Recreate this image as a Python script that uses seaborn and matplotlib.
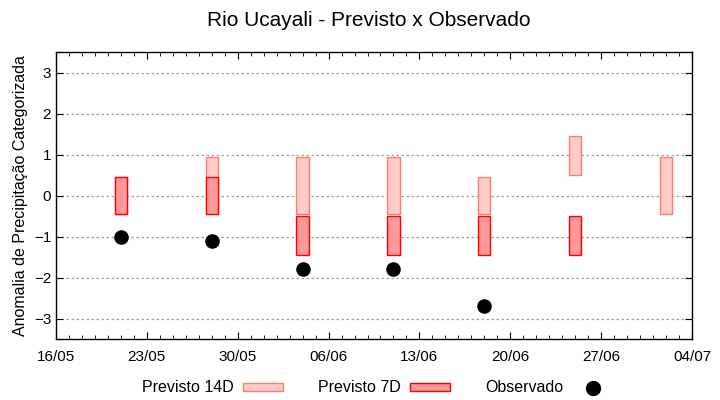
import numpy as np
import pandas as pd
import seaborn as sns
import matplotlib.pyplot as plt
import matplotlib.dates as mdates
from matplotlib.patches import Patch
from matplotlib.lines import Line2D

# forecast / observation dates
datas = ["2023-05-21", "2023-05-28", "2023-06-04", "2023-06-11",
         "2023-06-18", "2023-06-25", "2023-07-02"]
# Previsto 14D (low, high)
prev14_min = [-0.45, -0.45, -0.45, -0.45, -0.45, 0.5, -0.45]
prev14_max = [0.45, 0.95, 0.95, 0.95, 0.45, 1.45, 0.95]
# Previsto 7D (low, high)
prev7_min = [-0.45, -0.45, -1.45, -1.45, -1.45, -1.45, np.nan]
prev7_max = [0.45, 0.45, -0.5, -0.5, -0.5, -0.5, np.nan]
# Observado
observado = [-1.0, -1.1, -1.8, -1.8, -2.7, np.nan, np.nan]

eixo_x = ["2023-05-16", "2023-05-23", "2023-05-30", "2023-06-06",
          "2023-06-13", "2023-06-20", "2023-06-27", "2023-07-04"]

df = pd.DataFrame({
    "data": pd.to_datetime(datas),
    "p14_min": prev14_min, "p14_max": prev14_max,
    "p7_min": prev7_min, "p7_max": prev7_max,
    "obs": observado,
})

sns.set_style("white")
plt.rcParams["font.family"] = ["Liberation Sans", "DejaVu Sans"]
plt.rcParams["text.color"] = "black"
plt.rcParams["axes.labelcolor"] = "black"
plt.rcParams["xtick.color"] = "black"
plt.rcParams["ytick.color"] = "black"

fig = plt.figure(figsize=(7.2, 4), dpi=100)
ax = fig.add_axes([0.0778, 0.1525, 0.8833, 0.7175])

ax.bar(df["data"], df["p14_max"] - df["p14_min"], bottom=df["p14_min"], width=0.95,
       color="#ffccc7", edgecolor="#f47f72", linewidth=1.0, zorder=2)
ax.bar(df["data"], df["p7_max"] - df["p7_min"], bottom=df["p7_min"], width=0.95,
       color="#ff9999", edgecolor="#ff0000", linewidth=1.0, zorder=3)
sns.scatterplot(data=df.dropna(subset=["obs"]), x="data", y="obs", ax=ax,
                color="black", s=110, edgecolor="black", linewidth=0, zorder=4,
                legend=False)

ticks = pd.to_datetime(eixo_x)
ax.set_xlim(ticks[0], ticks[-1])
ax.set_xticks(ticks)
ax.xaxis.set_major_formatter(mdates.DateFormatter("%d/%m"))
ax.xaxis.set_minor_locator(mdates.DayLocator())
ax.set_ylim(-3.5, 3.5)
ax.set_yticks(range(-3, 4))

ax.yaxis.grid(True, color="#a0a0a0", linestyle=(0, (2, 2)), linewidth=0.9)
ax.set_axisbelow(True)
for s in ax.spines.values():
    s.set_color("black")
    s.set_linewidth(1.0)

ax.tick_params(which="both", direction="in", top=True, right=True,
               bottom=True, left=True, labelsize=11)
ax.tick_params(which="major", length=5)
ax.tick_params(which="minor", length=3)
ax.tick_params(axis="x", pad=8)

ax.set_xlabel("")
ax.set_ylabel("Anomalia de Precipitação Categorizada", fontsize=11.5, labelpad=4)
fig.suptitle("Rio Ucayali - Previsto x Observado", fontsize=15, x=0.5125, y=0.972)

handles = [
    Patch(facecolor="#ffccc7", edgecolor="#f47f72", label="Previsto 14D"),
    Patch(facecolor="#ff9999", edgecolor="#ff0000", label="Previsto 7D"),
    Line2D([], [], marker="o", color="black", linestyle="none", markersize=10,
           label="Observado"),
]
fig.legend(handles=handles, loc="center", bbox_to_anchor=(0.524, 0.03), ncol=3,
           frameon=False, markerfirst=False, fontsize=11.5, handlelength=2.5,
           handleheight=0.45, columnspacing=2.2, handletextpad=0.6)

fig.savefig("out.png", dpi=100)
